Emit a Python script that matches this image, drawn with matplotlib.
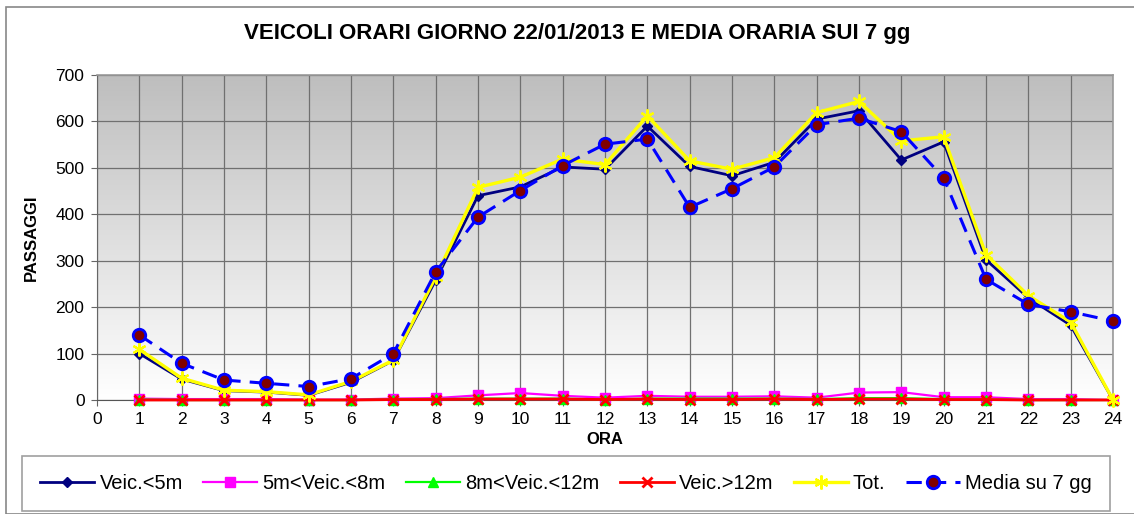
import numpy as np
import matplotlib
matplotlib.use("Agg")
import matplotlib.pyplot as plt
from matplotlib.colors import LinearSegmentedColormap

plt.rcParams['font.family'] = ['Liberation Sans', 'DejaVu Sans']

ore = list(range(1, 25))
veic_lt5 = [100, 45, 20, 17, 10, 38, 85, 258, 440, 459, 502, 497, 590, 503, 483, 512,
            605, 623, 517, 556, 302, 220, 161, 0]
veic_5_8 = [3, 2, 2, 2, 1, 1, 3, 4, 10, 15, 9, 5, 9, 7, 7, 8, 5, 16, 17, 6, 6, 2, 2, 0]
veic_8_12 = [1, 0, 0, 0, 0, 0, 1, 2, 3, 3, 3, 1, 3, 3, 3, 3, 2, 4, 4, 2, 1, 0, 0, 0]
veic_gt12 = [0, 0, 0, 0, 0, 0, 1, 1, 2, 2, 2, 1, 2, 1, 1, 2, 1, 2, 2, 1, 1, 0, 0, 0]
tot = [109, 47, 21, 18, 11, 40, 86, 265, 458, 480, 519, 507, 612, 515, 497, 522,
       619, 643, 558, 567, 313, 225, 168, 0]
media7 = [140, 79, 43, 36, 29, 46, 100, 276, 394, 451, 505, 551, 562, 415, 455, 502,
          593, 607, 578, 478, 260, 206, 190, 170]

titolo = "VEICOLI ORARI GIORNO 22/01/2013 E MEDIA ORARIA SUI 7 gg"
W, H = 1134, 514
fig = plt.figure(figsize=(W / 100, H / 100), dpi=100)

# outer border
fig.add_artist(plt.Rectangle((6 / W, 0), 1.2, (H - 7) / H, transform=fig.transFigure,
                             fill=False, edgecolor='#888888', linewidth=1.2))

L, R, T, B = 97, 1113, 75, 400
ax = fig.add_axes([L / W, (H - B) / H, (R - L) / W, (B - T) / H])

cmap = LinearSegmentedColormap.from_list('g', ['#ffffff', '#bebebe'])
ax.imshow(np.linspace(0, 1, 256)[::-1, None], extent=[0, 1, 0, 1], transform=ax.transAxes,
          cmap=cmap, aspect='auto', zorder=0, interpolation='bilinear')

ax.set_xlim(0, 24)
ax.set_ylim(0, 700)
ax.set_xticks(range(0, 25))
ax.set_yticks(range(0, 701, 100))
ax.grid(True, color='#707070', linewidth=0.9, zorder=1)
ax.set_axisbelow(True)
for s in ['top', 'right']:
    ax.spines[s].set_color('#999999')
    ax.spines[s].set_linewidth(1.2)
ax.spines['left'].set_color('#666666')
ax.spines['bottom'].set_color('#555555')
ax.tick_params(axis='both', labelsize=12.5, length=4, color='#666666')
ax.tick_params(axis='y', pad=5)
ax.tick_params(axis='x', pad=5)

star = (6, 2, 0)
ms = 7
common = dict(clip_on=False)
ax.plot(ore, veic_lt5, color='#000080', marker='D', markersize=5.5, linewidth=2, zorder=3,
        label='Veic.<5m', **common)
ax.plot(ore, veic_5_8, color='#ff00ff', marker='s', markersize=ms, linewidth=1.6, zorder=3,
        label='5m<Veic.<8m', **common)
ax.plot(ore, veic_8_12, color='#00ff00', marker='^', markersize=ms, linewidth=1.6, zorder=3,
        label='8m<Veic.<12m', **common)
ax.plot(ore, veic_gt12, color='#ff0000', marker='x', markersize=ms, markeredgewidth=2,
        linewidth=2, zorder=3.5, label='Veic.>12m', **common)
ax.plot(ore, tot, color='#ffff00', marker=star, markersize=10, markeredgewidth=1.6,
        linewidth=2.4, zorder=4, label='Tot.', **common)
ax.plot(ore, media7, color='#0000ff', linestyle=(0, (5, 3)), marker='o', markersize=9,
        markerfacecolor='#800000', markeredgecolor='#0000ff', markeredgewidth=2,
        linewidth=2.2, zorder=5, label='Media su 7 gg', **common)

fig.text(0.5 * (240 + 915) / W, 1 - 33 / H, titolo, ha='center', va='center',
         fontsize=16, fontweight='bold')
ax.set_xlabel('ORA', fontsize=12, fontweight='bold', labelpad=3)
ax.set_ylabel('PASSAGGI', fontsize=12, fontweight='bold', labelpad=12)

handles, labels = ax.get_legend_handles_labels()
leg = fig.legend(handles, labels, loc='center', ncol=6,
                 bbox_to_anchor=(21 / W, (H - 512) / H, (1111 - 21) / W, (512 - 455) / H),
                 fancybox=False, edgecolor='#888888', fontsize=14.5,
                 handlelength=2.7, handletextpad=0.25, columnspacing=1.0, borderpad=0.9)
leg.get_frame().set_linewidth(1.2)

fig.savefig('out.png', dpi=100)
